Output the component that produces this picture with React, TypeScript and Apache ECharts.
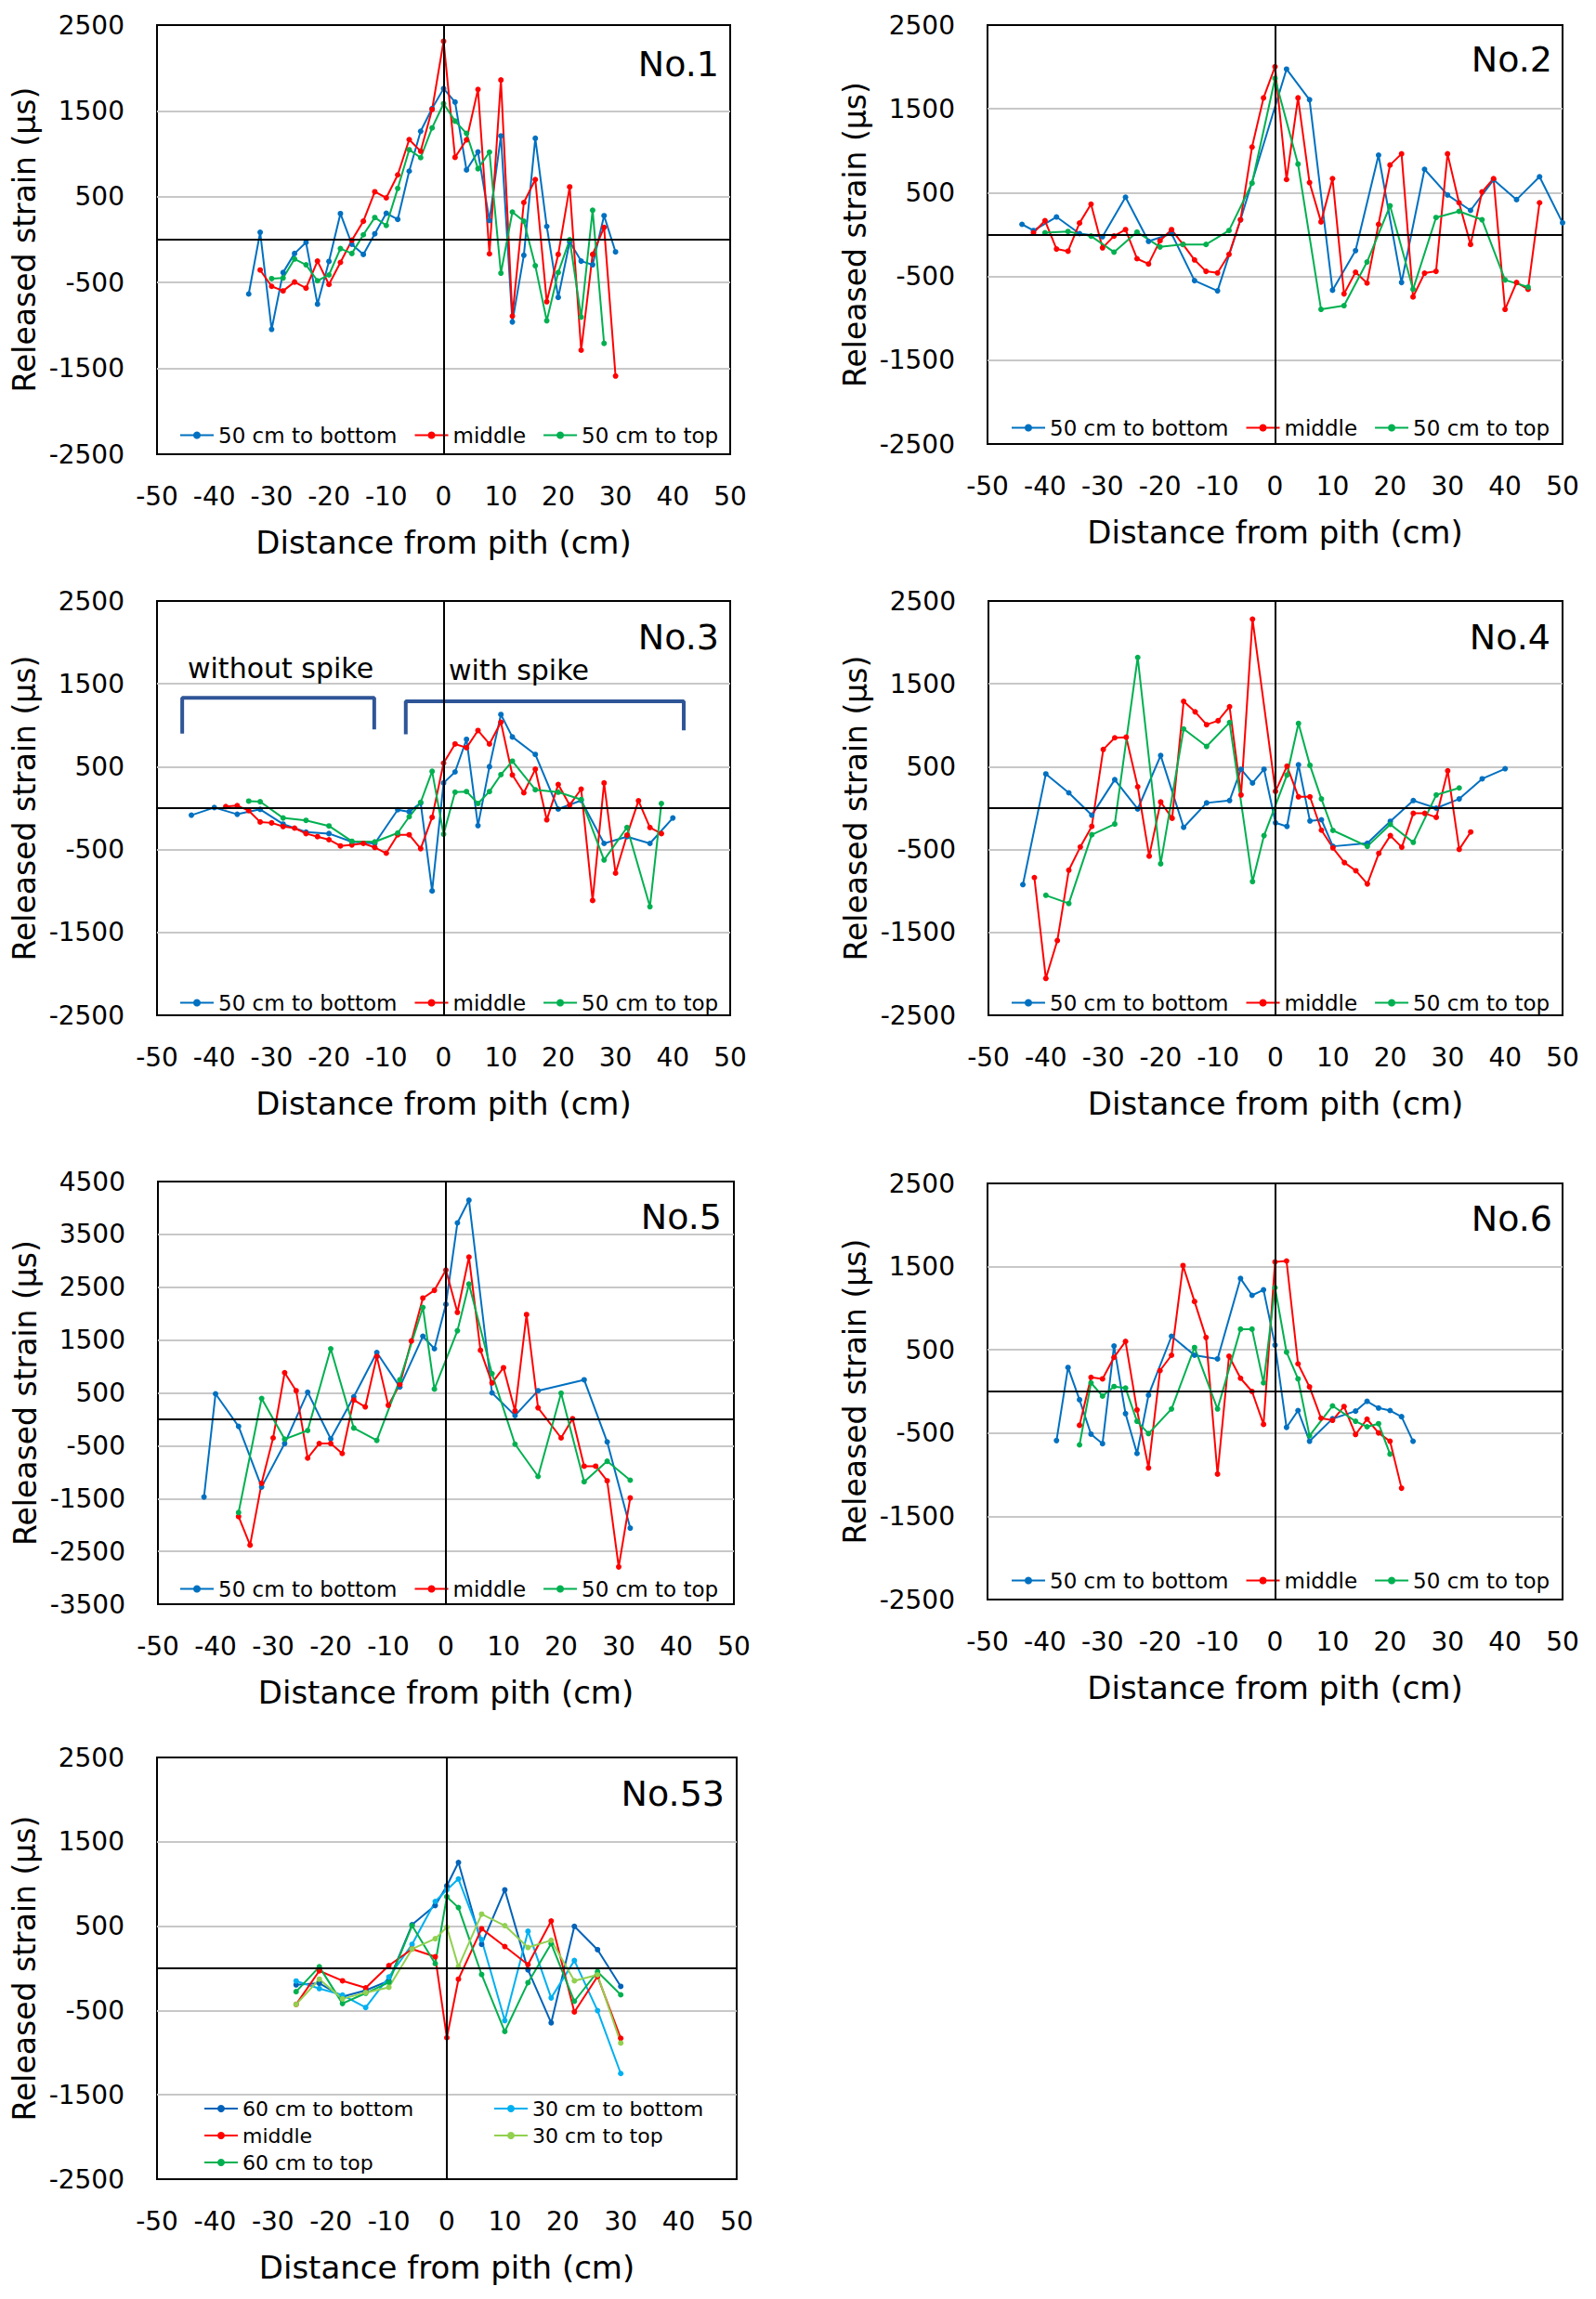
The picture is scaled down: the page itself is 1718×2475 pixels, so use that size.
import React, { useEffect, useRef } from "react";
import * as echarts from "echarts";

const FONT = "'DejaVu Sans', 'Noto Sans', sans-serif";
const BLUE = "#0070C0";
const RED = "#FF0000";
const GREEN = "#00B050";
const DARK_BLUE = "#0062B8";
const LIGHT_BLUE = "#00B0F0";
const LIGHT_GREEN = "#92D050";
const BRACKET = "#2F5597";

const X_MIN = -50;
const X_MAX = 50;
const X_STEP = 10;

// ---------- No.1 ----------
const P1_BOTTOM_X = [-34,-32,-30,-28,-26,-24,-22,-20,-18,-16,-14,-12,-10,-8,-6,-4,-2,0,2,4,6,8,10,12,14,16,18,20,22,24,26,28,30];
const P1_BOTTOM_Y = [-633,86,-1045,-383,-161,-32,-751,-254,304,-54,-172,68,308,236,798,1263,1528,1760,1603,812,1023,222,1209,-959,-182,1181,154,-673,-25,-250,-293,279,-143];
const P1_MIDDLE_X = [-32,-30,-28,-26,-24,-22,-20,-18,-16,-14,-12,-10,-8,-6,-4,-2,0,2,4,6,8,10,12,14,16,18,20,22,24,26,28,30];
const P1_MIDDLE_Y = [-354,-544,-597,-494,-565,-250,-522,-265,-7,215,558,487,755,1166,1030,1517,2311,959,1163,1750,-165,1860,-891,433,701,-723,-172,615,-1288,-172,143,-1589];
const P1_TOP_X = [-30,-28,-26,-24,-22,-20,-18,-16,-14,-12,-10,-8,-6,-4,-2,0,2,4,6,8,10,12,14,16,18,20,22,24,26,28];
const P1_TOP_Y = [-454,-447,-225,-293,-479,-411,-104,-161,57,258,165,597,1048,955,1302,1585,1381,1238,826,1020,-390,322,215,-304,-945,-383,0,-902,343,-1209];

// ---------- No.2 ----------
const P2_BOTTOM_X = [-44,-42,-38,-34,-30,-26,-22,-18,-14,-10,-6,2,6,10,14,18,22,26,30,34,38,42,46,50];
const P2_BOTTOM_Y = [122,48,210,11,-26,446,-81,11,-550,-672,177,1974,1609,-664,-192,948,-572,779,472,288,653,417,690,140];
const P2_MIDDLE_X = [-42,-40,-38,-36,-34,-32,-30,-28,-26,-24,-22,-20,-18,-16,-14,-12,-10,-8,-6,-4,-2,0,2,4,6,8,10,12,14,16,18,20,22,24,26,28,30,32,34,36,38,40,42,44,46];
const P2_MIDDLE_Y = [22,166,-173,-199,137,362,-159,-18,59,-288,-351,-74,59,-118,-303,-439,-458,-236,177,1044,1631,2004,657,1631,620,151,668,-708,-450,-579,122,830,963,-745,-461,-439,963,380,-118,509,668,-893,-572,-653,380];
const P2_TOP_X = [-40,-36,-32,-28,-24,-20,-16,-12,-8,-4,0,4,8,12,16,20,24,28,32,36,40,44];
const P2_TOP_Y = [22,37,-18,-210,30,-148,-118,-118,48,613,1863,841,-893,-849,-328,343,-653,203,277,177,-542,-627];

// ---------- No.3 ----------
const P3_BOTTOM_X = [-44,-40,-36,-32,-28,-24,-20,-16,-12,-8,-6,-4,-2,0,2,4,6,8,10,12,16,20,24,28,32,36,40];
const P3_BOTTOM_Y = [-85,7,-74,-15,-193,-289,-307,-407,-426,-19,-44,63,-1000,304,437,830,-211,500,1130,859,648,-11,93,-426,-344,-426,-119];
const P3_MIDDLE_X = [-38,-36,-34,-32,-30,-28,-26,-24,-22,-20,-18,-16,-14,-12,-10,-8,-6,-4,-2,0,2,4,6,8,10,12,14,16,18,20,22,24,26,28,30,32,34,36,38];
const P3_MIDDLE_Y = [19,30,-30,-167,-178,-222,-241,-307,-344,-381,-456,-444,-426,-474,-544,-322,-322,-489,-111,544,774,730,937,774,1037,400,185,470,-141,285,37,230,-1115,304,-785,-326,89,-233,-307];
const P3_TOP_X = [-34,-32,-28,-24,-20,-16,-12,-8,-6,-4,-2,0,2,4,6,8,10,12,16,20,24,28,32,36,38];
const P3_TOP_Y = [85,78,-119,-148,-215,-400,-407,-300,-104,70,444,-315,193,200,56,200,404,567,222,193,104,-626,-233,-1189,56];
// bracket annotations (data coordinates)
const P3_BRACKET_LEFT_X = [-45.6,-45.6,-12.1,-12.1];
const P3_BRACKET_LEFT_Y = [900,1330,1330,950];
const P3_BRACKET_RIGHT_X = [-6.6,-6.6,41.9,41.9];
const P3_BRACKET_RIGHT_Y = [890,1290,1290,940];

// ---------- No.4 ----------
const P4_BOTTOM_X = [-44,-40,-36,-32,-28,-24,-20,-16,-12,-8,-6,-4,-2,0,2,4,6,8,10,16,20,24,28,32,36,40];
const P4_BOTTOM_Y = [-923,413,185,-85,343,-11,635,-232,63,92,469,303,469,-177,-221,524,-155,-140,-461,-424,-159,92,0,111,354,476];
const P4_MIDDLE_X = [-42,-40,-38,-36,-34,-32,-30,-28,-26,-24,-22,-20,-18,-16,-14,-12,-10,-8,-6,-4,0,2,4,6,8,10,12,14,16,18,20,22,24,26,28,30,32,34];
const P4_MIDDLE_Y = [-838,-2055,-1598,-749,-469,-221,708,849,856,258,-579,74,-122,1288,1162,1007,1055,1225,159,2280,203,506,137,137,-266,-480,-657,-756,-915,-546,-332,-472,-63,-63,-111,450,-498,-288];
const P4_TOP_X = [-40,-36,-32,-28,-24,-20,-16,-12,-8,-4,-2,2,4,6,8,10,16,20,24,28,32];
const P4_TOP_Y = [-1052,-1151,-321,-192,1819,-672,956,745,1033,-886,-332,399,1022,517,111,-269,-461,-196,-413,159,244];

// ---------- No.5 ----------
const P5_BOTTOM_X = [-42,-40,-36,-32,-28,-24,-20,-16,-12,-8,-4,-2,0,2,4,8,12,16,24,28,32];
const P5_BOTTOM_Y = [-1471,482,-135,-1282,-459,512,-371,424,1265,612,1571,1335,2176,3718,4147,500,71,541,747,-429,-2059];
const P5_MIDDLE_X = [-36,-34,-32,-30,-28,-26,-24,-22,-20,-18,-16,-14,-12,-10,-8,-6,-4,-2,0,2,4,6,8,10,12,14,16,20,22,24,26,28,30,32];
const P5_MIDDLE_Y = [-1841,-2382,-1212,-353,882,541,-735,-459,-459,-647,365,235,1188,265,659,1482,2294,2441,2824,2024,3071,1306,688,976,159,1982,218,-353,12,-888,-888,-1165,-2794,-1488];
const P5_TOP_X = [-36,-32,-28,-24,-20,-16,-12,-8,-4,-2,2,4,8,12,16,20,24,28,32];
const P5_TOP_Y = [-1765,394,-376,-212,1335,-165,-400,747,2118,571,1676,2559,865,-471,-1082,494,-1182,-794,-1153];

// ---------- No.6 ----------
const P6_BOTTOM_X = [-38,-36,-34,-32,-30,-28,-26,-24,-22,-18,-14,-10,-6,-4,-2,0,2,4,6,10,14,16,18,20,22,24];
const P6_BOTTOM_Y = [-590,288,-100,-513,-627,546,-266,-745,-44,664,435,391,1358,1155,1221,557,-432,-229,-598,-328,-236,-118,-199,-229,-303,-598];
const P6_MIDDLE_X = [-34,-32,-30,-28,-26,-24,-22,-20,-18,-16,-14,-12,-10,-8,-6,-4,-2,0,2,4,6,8,10,12,14,16,18,20,22];
const P6_MIDDLE_Y = [-406,170,151,410,601,-221,-919,251,435,1513,1081,649,-993,424,159,0,-395,1557,1568,332,55,-321,-347,-181,-517,-332,-498,-598,-1162];
const P6_TOP_X = [-34,-32,-30,-28,-26,-24,-22,-18,-14,-10,-6,-4,-2,0,2,4,6,10,14,16,18,20];
const P6_TOP_Y = [-642,103,-55,59,41,-358,-506,-210,528,-210,749,749,103,1247,472,151,-531,-173,-358,-424,-387,-753];

// ---------- No.53 ----------
const P53_X = [-26,-22,-18,-14,-10,-6,-2,0,2,6,10,14,18,22,26,30];
const P53_60_BOTTOM_Y = [-196,-177,-336,-262,-148,517,745,978,1255,284,930,-18,-646,498,221,-214];
const P53_30_BOTTOM_Y = [-151,-240,-317,-465,-103,284,793,930,1059,339,-620,439,-351,92,-502,-1247];
const P53_MIDDLE_Y = [-428,-30,-148,-232,33,229,137,-823,-129,469,258,44,561,-517,-96,-830];
const P53_60_TOP_Y = [-277,18,-417,-295,-166,506,55,849,720,-74,-749,-170,292,-391,-41,-314];
const P53_30_TOP_Y = [-428,-129,-362,-288,-225,229,351,487,18,642,506,247,332,-148,-77,-886];

const pairs = (xs: number[], ys: number[]) => xs.map((x, i) => [x, ys[i]]);

const NAMES3 = ["50 cm to bottom", "middle", "50 cm to top"];

type S = { name: string; color: string; x: number[]; y: number[] };
type Panel = {
  label: string;
  yMin: number;
  yMax: number;
  grid: { left: number; top: number; width: number; height: number };
  labelPos: { right: number; top: number };
  series: S[];
};

const three = (bx: number[], by: number[], mx: number[], my: number[], tx: number[], ty: number[]): S[] => [
  { name: NAMES3[0], color: BLUE, x: bx, y: by },
  { name: NAMES3[1], color: RED, x: mx, y: my },
  { name: NAMES3[2], color: GREEN, x: tx, y: ty },
];

const PANELS: Panel[] = [
  { label: "No.1", yMin: -2500, yMax: 2500, grid: { left: 169, top: 27, width: 617, height: 462 }, labelPos: { right: 944, top: 50 },
    series: three(P1_BOTTOM_X, P1_BOTTOM_Y, P1_MIDDLE_X, P1_MIDDLE_Y, P1_TOP_X, P1_TOP_Y) },
  { label: "No.2", yMin: -2500, yMax: 2500, grid: { left: 1063, top: 27, width: 619, height: 451 }, labelPos: { right: 47, top: 45 },
    series: three(P2_BOTTOM_X, P2_BOTTOM_Y, P2_MIDDLE_X, P2_MIDDLE_Y, P2_TOP_X, P2_TOP_Y) },
  { label: "No.3", yMin: -2500, yMax: 2500, grid: { left: 169, top: 647, width: 617, height: 446 }, labelPos: { right: 944, top: 667 },
    series: three(P3_BOTTOM_X, P3_BOTTOM_Y, P3_MIDDLE_X, P3_MIDDLE_Y, P3_TOP_X, P3_TOP_Y) },
  { label: "No.4", yMin: -2500, yMax: 2500, grid: { left: 1064, top: 647, width: 618, height: 446 }, labelPos: { right: 49, top: 667 },
    series: three(P4_BOTTOM_X, P4_BOTTOM_Y, P4_MIDDLE_X, P4_MIDDLE_Y, P4_TOP_X, P4_TOP_Y) },
  { label: "No.5", yMin: -3500, yMax: 4500, grid: { left: 170, top: 1272, width: 620, height: 455 }, labelPos: { right: 941, top: 1291 },
    series: three(P5_BOTTOM_X, P5_BOTTOM_Y, P5_MIDDLE_X, P5_MIDDLE_Y, P5_TOP_X, P5_TOP_Y) },
  { label: "No.6", yMin: -2500, yMax: 2500, grid: { left: 1063, top: 1274, width: 619, height: 448 }, labelPos: { right: 47, top: 1293 },
    series: three(P6_BOTTOM_X, P6_BOTTOM_Y, P6_MIDDLE_X, P6_MIDDLE_Y, P6_TOP_X, P6_TOP_Y) },
  { label: "No.53", yMin: -2500, yMax: 2500, grid: { left: 169, top: 1892, width: 624, height: 454 }, labelPos: { right: 938, top: 1912 },
    series: [
      { name: "60 cm to bottom", color: DARK_BLUE, x: P53_X, y: P53_60_BOTTOM_Y },
      { name: "30 cm to bottom", color: LIGHT_BLUE, x: P53_X, y: P53_30_BOTTOM_Y },
      { name: "middle", color: RED, x: P53_X, y: P53_MIDDLE_Y },
      { name: "60 cm to top", color: GREEN, x: P53_X, y: P53_60_TOP_Y },
      { name: "30 cm to top", color: LIGHT_GREEN, x: P53_X, y: P53_30_TOP_Y },
    ] },
];

const LEGENDS = [
  { left: 193, top: 457, data: NAMES3 },
  { left: 1088, top: 449, data: NAMES3 },
  { left: 193, top: 1068, data: NAMES3 },
  { left: 1088, top: 1068, data: NAMES3 },
  { left: 193, top: 1699, data: NAMES3 },
  { left: 1088, top: 1690, data: NAMES3 },
];

const plain = (v: number) => String(v);

function buildOption() {
  const grid: any[] = [];
  const xAxis: any[] = [];
  const yAxis: any[] = [];
  const series: any[] = [];
  const title: any[] = [];

  PANELS.forEach((p, i) => {
    grid.push({ ...p.grid, show: true, borderColor: "#000", borderWidth: 2, backgroundColor: "transparent", containLabel: false });
    xAxis.push({
      type: "value", gridIndex: i, min: X_MIN, max: X_MAX, interval: X_STEP,
      axisLine: { show: false }, axisTick: { show: false }, splitLine: { show: false },
      axisLabel: { color: "#000", fontSize: 28, fontFamily: FONT, margin: 31, formatter: plain },
      name: "Distance from pith (cm)", nameLocation: "middle", nameGap: 78,
      nameTextStyle: { color: "#000", fontSize: 34, fontFamily: FONT },
    });
    yAxis.push({
      type: "value", gridIndex: i, min: p.yMin, max: p.yMax, interval: 1000,
      axisLine: { show: false }, axisTick: { show: false },
      splitLine: { show: true, showMinLine: false, showMaxLine: false, lineStyle: { color: "#C8C8C8", width: 2 } },
      axisLabel: { color: "#000", fontSize: 28, fontFamily: FONT, margin: 35, formatter: plain },
      name: "Released strain (μs)", nameLocation: "middle", nameGap: 126,
      nameTextStyle: { color: "#000", fontSize: 33, fontFamily: FONT },
    });
    // zero lines
    series.push({
      type: "line", name: "zero" + i, xAxisIndex: i, yAxisIndex: i, data: [], z: 1, silent: true,
      markLine: {
        silent: true, symbol: ["none", "none"], label: { show: false },
        lineStyle: { color: "#000", width: 2, type: "solid" },
        data: [{ yAxis: 0 }, { xAxis: 0 }],
      },
    });
    p.series.forEach((s) => {
      series.push({
        type: "line", name: s.name, xAxisIndex: i, yAxisIndex: i, z: 3,
        data: pairs(s.x, s.y), symbol: "circle", symbolSize: 6, showSymbol: true,
        itemStyle: { color: s.color }, lineStyle: { color: s.color, width: 2 },
      });
    });
    title.push({
      text: p.label, right: p.labelPos.right, top: p.labelPos.top, padding: 0,
      textStyle: { color: "#000", fontSize: 38, fontWeight: "normal", fontFamily: FONT },
    });
  });

  // No.3 brackets
  [[P3_BRACKET_LEFT_X, P3_BRACKET_LEFT_Y], [P3_BRACKET_RIGHT_X, P3_BRACKET_RIGHT_Y]].forEach(([bx, by], k) => {
    series.push({
      type: "line", name: "bracket" + k, xAxisIndex: 2, yAxisIndex: 2, z: 2, silent: true,
      data: pairs(bx, by), symbol: "none", lineStyle: { color: BRACKET, width: 4 },
    });
  });
  title.push({ text: "without spike", left: 202, top: 704, padding: 0, textStyle: { color: "#000", fontSize: 30, fontWeight: "normal", fontFamily: FONT } });
  title.push({ text: "with spike", left: 483, top: 706, padding: 0, textStyle: { color: "#000", fontSize: 30, fontWeight: "normal", fontFamily: FONT } });

  const legendBase = {
    itemWidth: 36, itemHeight: 10, itemGap: 18, padding: 0,
    textStyle: { color: "#000", fontSize: 23, fontFamily: FONT },
  };
  const legend: any[] = LEGENDS.map((l) => ({ ...legendBase, left: l.left, top: l.top, data: l.data, orient: "horizontal" }));
  legend.push({ ...legendBase, left: 219, top: 2259, orient: "vertical", itemGap: 7, data: ["60 cm to bottom", "middle", "60 cm to top"], textStyle: { ...legendBase.textStyle, fontSize: 22 } });
  legend.push({ ...legendBase, left: 531, top: 2259, orient: "vertical", itemGap: 7, data: ["30 cm to bottom", "30 cm to top"], textStyle: { ...legendBase.textStyle, fontSize: 22 } });

  return {
    animation: false,
    backgroundColor: "#fff",
    textStyle: { fontFamily: FONT },
    grid, xAxis, yAxis, series, title, legend,
  };
}

export default function App() {
  const ref = useRef<HTMLDivElement>(null);
  useEffect(() => {
    if (!ref.current) return;
    const chart = echarts.init(ref.current, undefined, { renderer: "svg" });
    chart.setOption(buildOption() as any);
    return () => chart.dispose();
  }, []);
  return (
    <div
      ref={ref}
      style={{ position: "absolute", left: 0, top: 0, width: 1718, height: 2475, background: "#fff" }}
    />
  );
}
